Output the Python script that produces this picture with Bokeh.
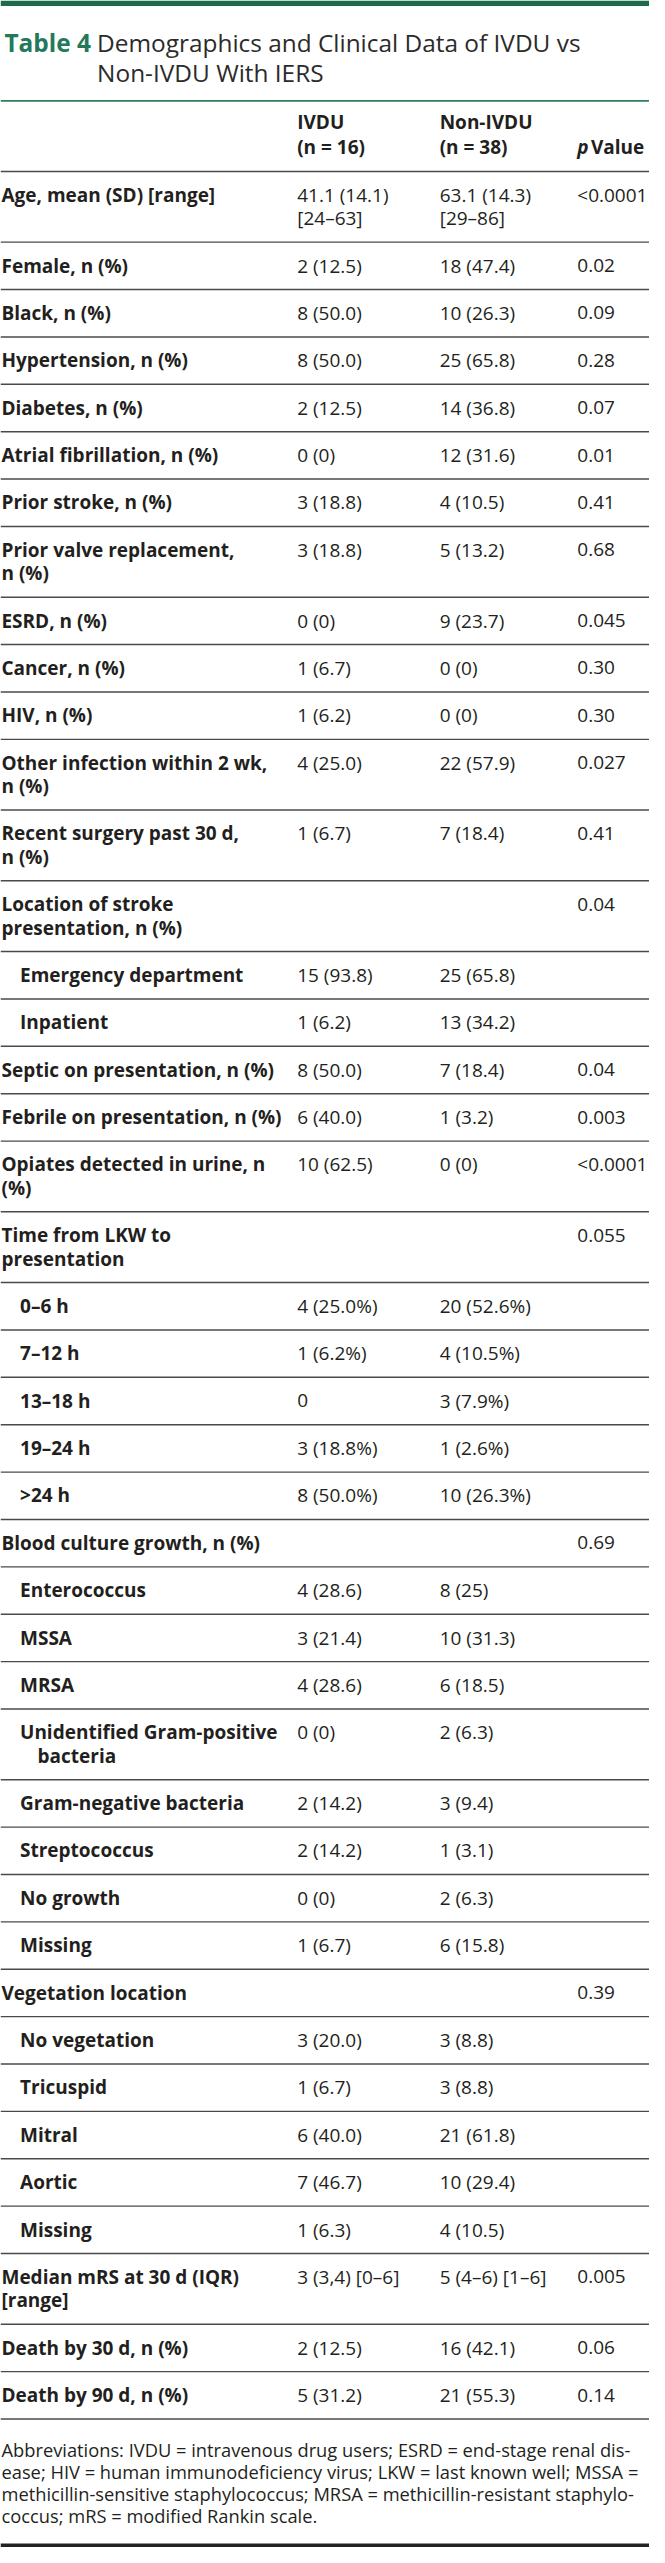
from bokeh.plotting import figure
from bokeh.models import Range1d, ColumnDataSource
from bokeh.core.properties import value
from bokeh.embed import file_html
from bokeh.resources import INLINE

# ---------------- data ----------------
title_tag = "Table 4"
title_lines = ["Demographics and Clinical Data of IVDU vs", "Non-IVDU With IERS"]
col_heads = [["IVDU", "(n = 16)"], ["Non-IVDU", "(n = 38)"]]
p_head = ["p", "Value"]

labels = [
    "Age, mean (SD) [range]",
    "Female, n (%)",
    "Black, n (%)",
    "Hypertension, n (%)",
    "Diabetes, n (%)",
    "Atrial fibrillation, n (%)",
    "Prior stroke, n (%)",
    "Prior valve replacement,\nn (%)",
    "ESRD, n (%)",
    "Cancer, n (%)",
    "HIV, n (%)",
    "Other infection within 2 wk,\nn (%)",
    "Recent surgery past 30 d,\nn (%)",
    "Location of stroke\npresentation, n (%)",
    "Emergency department",
    "Inpatient",
    "Septic on presentation, n (%)",
    "Febrile on presentation, n (%)",
    "Opiates detected in urine, n\n(%)",
    "Time from LKW to\npresentation",
    "0–6 h", "7–12 h", "13–18 h", "19–24 h", ">24 h",
    "Blood culture growth, n (%)",
    "Enterococcus", "MSSA", "MRSA", "Unidentified Gram-positive\nbacteria",
    "Gram-negative bacteria", "Streptococcus", "No growth", "Missing",
    "Vegetation location",
    "No vegetation", "Tricuspid", "Mitral", "Aortic", "Missing",
    "Median mRS at 30 d (IQR)\n[range]",
    "Death by 30 d, n (%)",
    "Death by 90 d, n (%)",
]
ivdu = [
    "41.1 (14.1)\n[24–63]", "2 (12.5)", "8 (50.0)", "8 (50.0)", "2 (12.5)", "0 (0)",
    "3 (18.8)", "3 (18.8)", "0 (0)", "1 (6.7)", "1 (6.2)", "4 (25.0)", "1 (6.7)", "",
    "15 (93.8)", "1 (6.2)", "8 (50.0)", "6 (40.0)", "10 (62.5)", "",
    "4 (25.0%)", "1 (6.2%)", "0", "3 (18.8%)", "8 (50.0%)", "",
    "4 (28.6)", "3 (21.4)", "4 (28.6)", "0 (0)", "2 (14.2)", "2 (14.2)", "0 (0)", "1 (6.7)", "",
    "3 (20.0)", "1 (6.7)", "6 (40.0)", "7 (46.7)", "1 (6.3)",
    "3 (3,4) [0–6]", "2 (12.5)", "5 (31.2)",
]
non_ivdu = [
    "63.1 (14.3)\n[29–86]", "18 (47.4)", "10 (26.3)", "25 (65.8)", "14 (36.8)", "12 (31.6)",
    "4 (10.5)", "5 (13.2)", "9 (23.7)", "0 (0)", "0 (0)", "22 (57.9)", "7 (18.4)", "",
    "25 (65.8)", "13 (34.2)", "7 (18.4)", "1 (3.2)", "0 (0)", "",
    "20 (52.6%)", "4 (10.5%)", "3 (7.9%)", "1 (2.6%)", "10 (26.3%)", "",
    "8 (25)", "10 (31.3)", "6 (18.5)", "2 (6.3)", "3 (9.4)", "1 (3.1)", "2 (6.3)", "6 (15.8)", "",
    "3 (8.8)", "3 (8.8)", "21 (61.8)", "10 (29.4)", "4 (10.5)",
    "5 (4–6) [1–6]", "16 (42.1)", "21 (55.3)",
]
p_values = [
    "<0.0001", "0.02", "0.09", "0.28", "0.07", "0.01", "0.41", "0.68", "0.045", "0.30", "0.30",
    "0.027", "0.41", "0.04", "", "", "0.04", "0.003", "<0.0001", "0.055",
    "", "", "", "", "", "0.69",
    "", "", "", "", "", "", "", "", "0.39",
    "", "", "", "", "", "0.005", "0.06", "0.14",
]
is_subrow = [0] * 14 + [1, 1] + [0] * 4 + [1] * 5 + [0] + [1] * 8 + [0] + [1] * 5 + [0] * 3

footnote = [
    "Abbreviations: IVDU = intravenous drug users; ESRD = end-stage renal dis-",
    "ease; HIV = human immunodeficiency virus; LKW = last known well; MSSA =",
    "methicillin-sensitive staphylococcus; MRSA = methicillin-resistant staphylo-",
    "coccus; mRS = modified Rankin scale.",
]

# ---------------- layout (reference pixel units) ----------------
W_REF, H_REF = 665, 2563
FIG_W, FIG_H = 649, 2547
S = FIG_W / W_REF
FONT = value("Open Sans")
INK = "#231f20"
GREEN = "#1d6b4b"
RULE = "#4a4a4a"

def fs(px):
    return f"{px * S:.1f}px"

BODY = 19.5
TITLE = 25.0
FOOT = 18.8
LINE = 23.5
ROW1 = 47.68
X_LABEL, X_SUB, X_HANG = 1, 20, 38
X_COL = [304, 450, 591]

p = figure(width=FIG_W, height=FIG_H, x_range=Range1d(0, W_REF), y_range=Range1d(H_REF, 0),
           output_backend="svg", toolbar_location=None, min_border=0)
p.axis.visible = False
p.grid.visible = False
p.outline_line_color = None
p.background_fill_color = "white"
p.border_fill_color = "white"

# top bar and title rule
p.quad(left=[0], right=[W_REF], top=[0], bottom=[5.5], fill_color=GREEN, line_color=None)
p.segment(x0=[0], x1=[W_REF], y0=[101], y1=[101], line_color="#2f8059", line_width=1.8)

# title
p.text(x=[4], y=[42], text=[title_tag], text_font=FONT, text_font_size=fs(TITLE),
       text_font_style="bold", text_color="#23795a", text_baseline="middle")
p.text(x=[99, 99], y=[42, 72], text=title_lines, text_font=FONT, text_font_size=fs(TITLE),
       text_color="#2b2b2b", text_baseline="middle")

# header
hx, hy, ht = [], [], []
for ci, head in enumerate(col_heads):
    for li, s in enumerate(head):
        hx.append(X_COL[ci]); hy.append(122 + li * 25); ht.append(s)
p.text(x=hx, y=hy, text=ht, text_font=FONT, text_font_size=fs(BODY),
       text_font_style="bold", text_color=INK, text_baseline="middle")
p.text(x=[X_COL[2]], y=[147], text=[p_head[0]], text_font=FONT, text_font_size=fs(BODY),
       text_font_style="bold italic", text_color=INK, text_baseline="middle")
p.text(x=[X_COL[2] + 14], y=[147], text=[p_head[1]], text_font=FONT, text_font_size=fs(BODY),
       text_font_style="bold", text_color=INK, text_baseline="middle")

# body rows
lab = dict(x=[], y=[], text=[])
val = dict(x=[], y=[], text=[])
rules = [172.0]
top = 172.0
for i, name in enumerate(labels):
    cells = [ivdu[i], non_ivdu[i], p_values[i]]
    lab_lines = name.split("\n")
    n = max([len(lab_lines)] + [len(c.split("\n")) for c in cells])
    for li, s in enumerate(lab_lines):
        if is_subrow[i]:
            x = X_SUB if li == 0 else X_HANG
        else:
            x = X_LABEL
        lab["x"].append(x); lab["y"].append(top + LINE + li * LINE); lab["text"].append(s)
    for ci, c in enumerate(cells):
        if not c:
            continue
        for li, s in enumerate(c.split("\n")):
            val["x"].append(X_COL[ci]); val["y"].append(top + LINE + li * LINE); val["text"].append(s)
    top += ROW1 + LINE * (n - 1)
    rules.append(top)

p.text(x="x", y="y", text="text", source=ColumnDataSource(lab), text_font=FONT,
       text_font_size=fs(BODY), text_font_style="bold", text_color=INK, text_baseline="middle")
p.text(x="x", y="y", text="text", source=ColumnDataSource(val), text_font=FONT,
       text_font_size=fs(BODY), text_color=INK, text_baseline="middle")
p.segment(x0=[0] * len(rules), x1=[W_REF] * len(rules), y0=rules, y1=rules,
          line_color=RULE, line_width=1.4)

# footnote
fy = [rules[-1] + 31 + k * 22 for k in range(len(footnote))]
p.text(x=[1] * len(footnote), y=fy, text=footnote, text_font=FONT, text_font_size=fs(FOOT),
       text_color=INK, text_baseline="middle")
p.quad(left=[0], right=[W_REF], top=[2559], bottom=[2563], fill_color="#222222", line_color=None)

open("out.html", "w").write(file_html(p, INLINE))
